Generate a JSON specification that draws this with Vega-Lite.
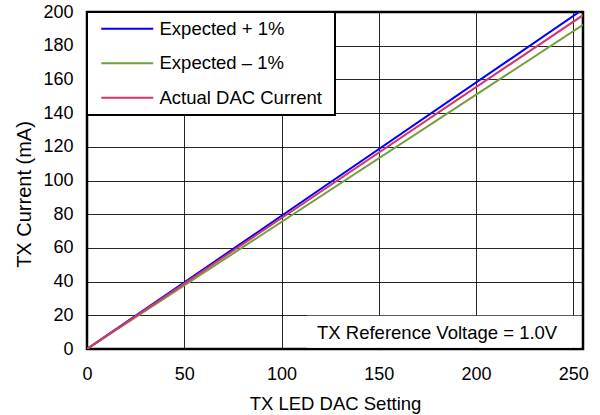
{
  "$schema": "https://vega.github.io/schema/vega-lite/v6.json",
  "width": 496,
  "height": 337,
  "autosize": "none",
  "padding": {"left": 87, "top": 12, "right": 17, "bottom": 66},
  "background": "white",
  "config": {
    "font": "Liberation Sans",
    "view": {"stroke": "black", "strokeWidth": 2.5},
    "axis": {
      "grid": true,
      "gridColor": "black",
      "gridWidth": 1,
      "gridOpacity": 0.85,
      "domain": false,
      "ticks": false,
      "labelOverlap": false,
      "labelFlush": false,
      "labelFont": "Liberation Sans",
      "labelFontSize": 18,
      "labelColor": "black",
      "titleFont": "Liberation Sans",
      "titleFontSize": 18.5,
      "titleFontWeight": "normal",
      "titleColor": "black"
    },
    "axisX": {
      "values": [0, 50, 100, 150, 200, 250],
      "labelPadding": 16,
      "titleY": 60,
      "titleBaseline": "alphabetic"
    },
    "axisY": {
      "values": [0, 20, 40, 60, 80, 100, 120, 140, 160, 180, 200],
      "labelPadding": 14,
      "titleFontSize": 20,
      "titleX": -57,
      "titleY": 182,
      "titleAngle": -90,
      "titleAlign": "center",
      "titleBaseline": "alphabetic"
    }
  },
  "layer": [
    {
      "data": {
        "values": [
          {"series": "Expected + 1%", "dac": 0, "current": 0},
          {"series": "Expected + 1%", "dac": 255, "current": 201.6},
          {"series": "Expected – 1%", "dac": 0, "current": 0},
          {"series": "Expected – 1%", "dac": 255, "current": 192.4},
          {"series": "Actual DAC Current", "dac": 0, "current": 0},
          {"series": "Actual DAC Current", "dac": 255, "current": 198.1}
        ]
      },
      "mark": {"type": "line", "strokeWidth": 2, "clip": true},
      "encoding": {
        "x": {
          "field": "dac",
          "type": "quantitative",
          "scale": {"domain": [0, 255], "nice": false},
          "axis": {
            "values": [0, 50, 100, 150, 200, 250],
            "title": "TX LED DAC Setting"
          }
        },
        "y": {
          "field": "current",
          "type": "quantitative",
          "scale": {"domain": [0, 200], "nice": false},
          "axis": {
            "values": [0, 20, 40, 60, 80, 100, 120, 140, 160, 180, 200],
            "title": "TX Current (mA)"
          }
        },
        "color": {
          "field": "series",
          "type": "nominal",
          "scale": {
            "domain": ["Expected + 1%", "Expected – 1%", "Actual DAC Current"],
            "range": ["#0000ff", "#70a23c", "#d7336b"]
          },
          "legend": {
            "orient": "none",
            "legendX": 0,
            "legendY": 0,
            "title": " ",
            "titleOrient": "right",
            "titleFontSize": 1,
            "titlePadding": 6,
            "fillColor": "white",
            "strokeColor": "black",
            "padding": 7.5,
            "symbolType": "M0,0H26",
            "symbolSize": 16,
            "symbolStrokeWidth": 2,
            "symbolOffset": -2.5,
            "labelOffset": 49,
            "labelFont": "Liberation Sans",
            "labelFontSize": 18.5,
            "labelColor": "black",
            "labelLimit": 400,
            "rowPadding": 15.5,
            "encode": {"legend": {"update": {"strokeWidth": {"value": 2}}}}
          }
        }
      }
    },
    {
      "data": {"values": [{"note": "TX Reference Voltage = 1.0V"}]},
      "mark": {"type": "rect", "fill": "white", "opacity": 1},
      "encoding": {
        "x": {"datum": 113, "type": "quantitative", "axis": {"values": [0, 50, 100, 150, 200, 250], "title": "TX LED DAC Setting"}},
        "x2": {"datum": 253.8},
        "y": {"datum": 0.8, "type": "quantitative", "axis": {"values": [0, 20, 40, 60, 80, 100, 120, 140, 160, 180, 200], "title": "TX Current (mA)"}},
        "y2": {"datum": 19.7}
      }
    },
    {
      "data": {"values": [{"note": "TX Reference Voltage = 1.0V"}]},
      "mark": {"type": "text", "fontSize": 18.5, "fontWeight": "normal", "font": "Liberation Sans", "color": "black", "align": "center", "baseline": "middle"},
      "encoding": {
        "x": {"datum": 180, "type": "quantitative", "axis": {"values": [0, 50, 100, 150, 200, 250], "title": "TX LED DAC Setting"}},
        "y": {"datum": 9.2, "type": "quantitative", "axis": {"values": [0, 20, 40, 60, 80, 100, 120, 140, 160, 180, 200], "title": "TX Current (mA)"}},
        "text": {"field": "note", "type": "nominal"}
      }
    }
  ]
}
